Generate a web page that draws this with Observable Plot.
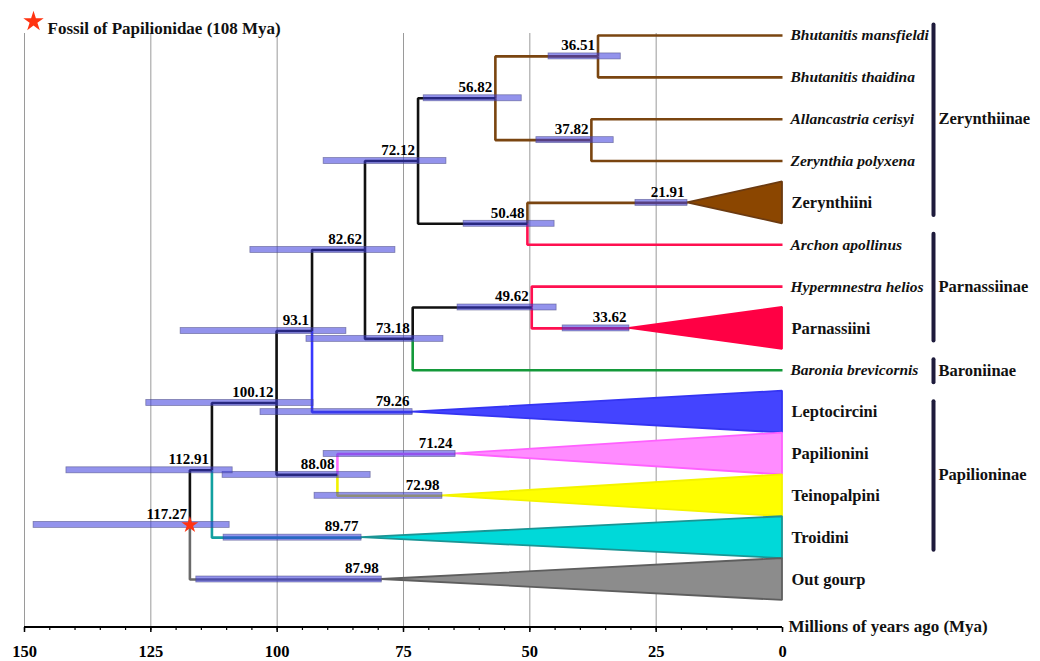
<!DOCTYPE html>
<html>
<head>
<meta charset="utf-8">
<script src="https://cdn.jsdelivr.net/npm/d3@7"></script>
<script src="https://cdn.jsdelivr.net/npm/@observablehq/plot@0.6"></script>
<style>
  html, body { margin: 0; padding: 0; background: #fff; }
  #chart svg { display: block; }
  #chart svg text { font-family: "Liberation Serif", "Times New Roman", serif !important; }
</style>
</head>
<body>
<div id="chart"></div>
<script>
// ---------------- DATA ----------------
const tipNames = ["Bhutanitis mansfieldi","Bhutanitis thaidina","Allancastria cerisyi","Zerynthia polyxena","Zerynthiini","Archon apollinus","Hypermnestra helios","Parnassiini","Baronia brevicornis","Leptocircini","Papilionini","Teinopalpini","Troidini","Out gourp"];

// collapsed clades (drawn as triangles)
const collapsedTips = ["Zerynthiini","Parnassiini","Leptocircini","Papilionini","Teinopalpini","Troidini","Out gourp"];
const collapsedAges = [21.91, 33.62, 79.26, 71.24, 72.98, 89.77, 87.98];
const collapsedHpdYoung = [18.8, 30.3, 73.2, 64.7, 67.3, 83.3, 79.3];
const collapsedHpdOld = [29.1, 43.5, 103.3, 90.8, 92.6, 110.6, 116.0];

// internal nodes (children listed before parents)
const nodeIds = ["A","B","C","D","E","F","G","H","I","J","K","L","R"];
const nodeAges = [36.51, 37.82, 56.82, 50.48, 72.12, 49.62, 73.18, 82.62, 93.1, 88.08, 100.12, 112.91, 117.27];
const nodeHpdYoung = [32.0, 33.4, 51.6, 45.1, 66.5, 44.7, 67.1, 76.6, 86.3, 81.5, 92.8, 108.8, 109.4];
const nodeHpdOld = [46.3, 48.7, 71.0, 63.1, 90.8, 64.3, 94.2, 105.3, 119.1, 110.8, 125.9, 141.7, 148.2];
const nodeChildren = [
  ["Bhutanitis mansfieldi","Bhutanitis thaidina"],
  ["Allancastria cerisyi","Zerynthia polyxena"],
  ["A","B"],
  ["Zerynthiini","Archon apollinus"],
  ["C","D"],
  ["Hypermnestra helios","Parnassiini"],
  ["F","Baronia brevicornis"],
  ["E","G"],
  ["H","Leptocircini"],
  ["Papilionini","Teinopalpini"],
  ["I","J"],
  ["K","Troidini"],
  ["L","Out gourp"]
];

// lineage of the branch leading to each child
const branchTo = ["Bhutanitis mansfieldi","Bhutanitis thaidina","Allancastria cerisyi","Zerynthia polyxena","A","B","Zerynthiini","Archon apollinus","Hypermnestra helios","Parnassiini","Baronia brevicornis","Leptocircini","Papilionini","Teinopalpini","Troidini","Out gourp"];
const branchLineage = ["Zerynthiinae","Zerynthiinae","Zerynthiinae","Zerynthiinae","Zerynthiinae","Zerynthiinae","Zerynthiinae","Parnassiinae","Parnassiinae","Parnassiinae","Baroniinae","Leptocircini","Papilionini","Teinopalpini","Troidini","Outgroup"];

// subfamily brackets
const groupNames = ["Zerynthiinae","Parnassiinae","Baroniinae","Papilioninae"];
const groupFirst = ["Bhutanitis mansfieldi","Archon apollinus","Baronia brevicornis","Leptocircini"];
const groupLast = ["Zerynthiini","Parnassiini","Baronia brevicornis","Troidini"];

const majorTicks = [150, 125, 100, 75, 50, 25, 0];
const minorTicks = d3.range(0, 151, 5);
const gridTicks = [150, 125, 100, 75, 50, 25];

const fossilText = "Fossil of Papilionidae (108 Mya)";
const axisTitle = "Millions of years ago (Mya)";

// ---------------- STYLES ----------------
const lineageDomain = ["backbone","Zerynthiinae","Parnassiinae","Baroniinae","Leptocircini","Papilionini","Teinopalpini","Troidini","Outgroup"];
const lineageRange  = ["#111111","#7a4510","#ff1050","#14993a","#3838ff","#ff70ff","#f2f200","#12a0a0","#6a6a6a"];
const triStyle = {
  "Zerynthiini":  {fill: "#8b4600", stroke: "#6b3a10"},
  "Parnassiini":  {fill: "#ff0044", stroke: "#ff0044"},
  "Leptocircini": {fill: "#4444ff", stroke: "#3434f2"},
  "Papilionini":  {fill: "#ff8cff", stroke: "#ff60ff"},
  "Teinopalpini": {fill: "#ffff00", stroke: "#f4f400"},
  "Troidini":     {fill: "#00d9d9", stroke: "#1a9494"},
  "Out gourp":    {fill: "#8c8c8c", stroke: "#5e5e5e"}
};
const FONT = "Liberation Serif";

// ---------------- BUILD TREE ----------------
const yOf = new Map(tipNames.map((n, i) => [n, i]));
const endAge = new Map(tipNames.map(n => [n, 0]));
collapsedTips.forEach((n, i) => endAge.set(n, collapsedHpdYoung[i]));
const lineageOf = new Map(branchTo.map((n, i) => [n, branchLineage[i]]));

const nodes = nodeIds.map((id, i) => ({id, age: nodeAges[i], lo: nodeHpdYoung[i], hi: nodeHpdOld[i], children: nodeChildren[i]}));
nodes.forEach(nd => {
  nd.y = d3.mean(nd.children, c => yOf.get(c));
  yOf.set(nd.id, nd.y);
  endAge.set(nd.id, nd.age);
});

const edgePts = [];
nodes.forEach(nd => {
  nd.children.forEach(c => {
    const id = nd.id + ">" + c;
    const lin = lineageOf.get(c) || "backbone";
    edgePts.push({id, lin, x: nd.age, y: nd.y});
    edgePts.push({id, lin, x: nd.age, y: yOf.get(c)});
    edgePts.push({id, lin, x: endAge.get(c), y: yOf.get(c)});
  });
});

const bars = [
  ...nodes.map(nd => ({lo: nd.lo, hi: nd.hi, y: nd.y})),
  ...collapsedTips.map((n, i) => ({lo: collapsedHpdYoung[i], hi: collapsedHpdOld[i], y: yOf.get(n)}))
];
const nodeLabels = [
  ...nodes.map(nd => ({x: nd.age, y: nd.y, text: String(nd.age)})),
  ...collapsedTips.map((n, i) => ({x: collapsedHpdYoung[i], y: yOf.get(n), text: String(collapsedAges[i])}))
];

const triMarks = collapsedTips.map((n, i) => {
  const y = yOf.get(n), apex = collapsedHpdYoung[i];
  const pts = [{y: y - 0.5, x1: 0, x2: 0}, {y: y, x1: apex, x2: 0}, {y: y + 0.5, x1: 0, x2: 0}];
  return Plot.areaX(pts, {y: "y", x1: "x1", x2: "x2", curve: "linear", fill: triStyle[n].fill, stroke: triStyle[n].stroke, strokeWidth: 1.8, strokeLinejoin: "miter"});
});

const species = tipNames.filter(n => !collapsedTips.includes(n));
const groups = groupNames.map((g, i) => ({name: g, y1: yOf.get(groupFirst[i]) - 0.25, y2: yOf.get(groupLast[i]) + 0.3, ym: (yOf.get(groupFirst[i]) + yOf.get(groupLast[i])) / 2}));
const root = nodes[nodes.length - 1];

const W = 1040, H = 661, mL = 24, mR = 258, mT = 0, mB = 34;
const txt = {fontFamily: FONT, fontWeight: "bold", fill: "#111"};

const chart = Plot.plot({
  width: W, height: H,
  marginLeft: mL, marginRight: mR, marginTop: mT, marginBottom: mB,
  style: {fontFamily: FONT, background: "#fff", overflow: "visible"},
  x: {domain: [150, 0], axis: null, label: null},
  y: {domain: [0, 13], range: [35, 579], axis: null, label: null},
  color: {domain: lineageDomain, range: lineageRange},
  marks: [
    Plot.ruleX(gridTicks, {stroke: "#9a9a9a", strokeWidth: 1, insetTop: 33}),
    Plot.axisX({ticks: minorTicks, tickSize: 3, tickFormat: () => "", stroke: "#000", strokeWidth: 1.2}),
    Plot.axisX({ticks: majorTicks, tickSize: 5, tickPadding: 13, tickFormat: d => String(d), stroke: "#000", strokeWidth: 1.5, fontSize: 16.5, fontFamily: FONT, fontWeight: "bold", fill: "#000"}),
    ...triMarks,
    Plot.line(edgePts, {x: "x", y: "y", z: "id", stroke: "lin", strokeWidth: 2.6, strokeLinejoin: "miter", strokeLinecap: "butt", curve: "linear"}),
    Plot.rect(bars, {x1: "lo", x2: "hi", y1: "y", y2: "y", insetTop: -3, insetBottom: -3, fill: "#3a3adc", fillOpacity: 0.55, stroke: "#4a4a80", strokeOpacity: 0.6, strokeWidth: 0.8}),
    Plot.text(nodeLabels, {x: "x", y: "y", text: "text", textAnchor: "end", dx: -3, dy: -11, fontSize: 15, ...txt, fill: "#000"}),
    Plot.text(species, {x: () => 0, y: n => yOf.get(n), text: d => d, textAnchor: "start", dx: 8, fontSize: 15.5, fontStyle: "italic", ...txt}),
    Plot.text(collapsedTips, {x: () => 0, y: n => yOf.get(n), text: d => d, textAnchor: "start", dx: 9, fontSize: 16.5, ...txt}),
    Plot.ruleX(groups, {x: () => 0, y1: "y1", y2: "y2", dx: 151, stroke: "#1e1b3c", strokeWidth: 4, strokeLinecap: "round"}),
    Plot.text(groups, {x: () => 0, y: "ym", text: "name", dx: 156, textAnchor: "start", fontSize: 16.5, ...txt}),
    Plot.dot([root], {x: "age", y: "y", symbol: "star", r: 5.3, fill: "#ff3311", stroke: "none"}),
    Plot.dot([fossilText], {frameAnchor: "top-left", dx: 9, dy: 21, symbol: "star", r: 6.4, fill: "#ff3311", stroke: "none"}),
    Plot.text([fossilText], {frameAnchor: "top-left", text: d => d, dx: 23, dy: 21, textAnchor: "start", fontSize: 17, ...txt}),
    Plot.text([axisTitle], {frameAnchor: "bottom-right", text: d => d, dx: 6, dy: 4, textAnchor: "start", fontSize: 17, ...txt})
  ]
});

// axis baseline drawn through the x scale
const sx = chart.scale("x");
d3.select(chart).append("line")
  .attr("x1", sx.apply(150)).attr("x2", sx.apply(0))
  .attr("y1", H - mB).attr("y2", H - mB)
  .attr("stroke", "#000").attr("stroke-width", 2);

document.getElementById("chart").appendChild(chart);
</script>
</body>
</html>
